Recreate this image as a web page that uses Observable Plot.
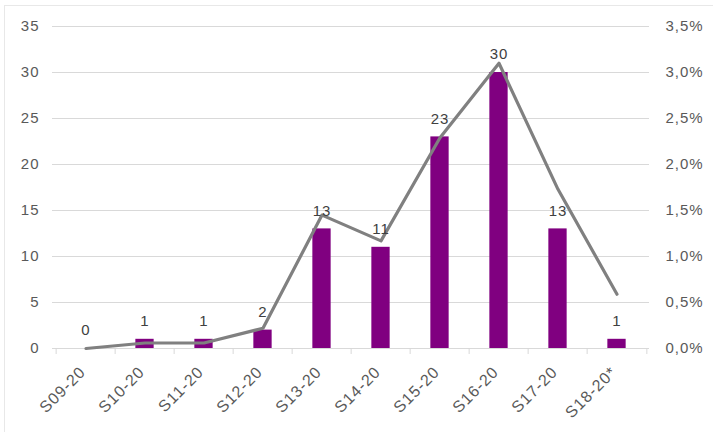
<!DOCTYPE html>
<html>
<head>
<meta charset="utf-8">
<script src="https://cdn.jsdelivr.net/npm/d3@7"></script>
<script src="https://cdn.jsdelivr.net/npm/@observablehq/plot@0.6"></script>
<style>
  html, body { margin: 0; padding: 0; background: #fff; }
  #wrap { position: relative; width: 713px; height: 432px; overflow: hidden; }
  #frame { position: absolute; left: 4px; top: 5px; width: 720px; height: 440px; border: 1px solid #e8e8e8; box-sizing: border-box; pointer-events: none; }
</style>
</head>
<body>
<div id="wrap"><div id="frame"></div></div>
<script>
const categories = ["S09-20","S10-20","S11-20","S12-20","S13-20","S14-20","S15-20","S16-20","S17-20","S18-20*"];
const counts = [0, 1, 1, 2, 13, 11, 23, 30, 13, 1];
const shares = [0.0, 0.06, 0.06, 0.22, 1.45, 1.17, 2.29, 3.10, 1.73, 0.59]; // percent
const leftTicks = [0, 5, 10, 15, 20, 25, 30, 35];
const rightTicks = [0.0, 0.5, 1.0, 1.5, 2.0, 2.5, 3.0, 3.5];

const data = categories.map((c, i) => ({cat: c, count: counts[i], share: shares[i]}));

const W = 713, H = 432, ML = 52, MR = 64, MT = 26, MB = 84;
const bw = (W - ML - MR) / categories.length;
const font = "Liberation Sans, Arial, sans-serif";
const textColor = "#595959";

const chart = Plot.plot({
  width: W, height: H,
  marginLeft: ML, marginRight: MR, marginTop: MT, marginBottom: MB,
  style: {fontFamily: font, fontSize: "15px", color: textColor, background: "transparent", letterSpacing: "1px"},
  x: {type: "band", domain: categories, padding: 0, axis: null},
  y: {domain: [0, 35], axis: null},
  marks: [
    Plot.gridY(leftTicks, {stroke: "#d9d9d9", strokeOpacity: 1, strokeWidth: 1.2}),
    // category boundary tick marks
    Plot.axisX(categories, {tickSize: 6, text: null, label: null, stroke: "#d9d9d9", strokeOpacity: 1, dx: -bw / 2}),
    Plot.axisX([categories[categories.length - 1]], {tickSize: 6, text: null, label: null, stroke: "#d9d9d9", strokeOpacity: 1, dx: bw / 2}),
    Plot.axisX(categories, {tickSize: 0, tickPadding: 21, tickRotate: -45, label: null, fill: textColor, fontSize: 16, dx: -3}),
    Plot.axisY(leftTicks, {anchor: "left", tickSize: 0, tickPadding: 13, label: null, fill: textColor, fontSize: 15}),
    Plot.axisY(rightTicks.map(v => v * 10), {anchor: "right", tickSize: 0, tickPadding: 16, textAnchor: "start", label: null, fill: textColor, fontSize: 15,
      tickFormat: d => (d / 10).toFixed(1).replace(".", ",") + "%"}),
    Plot.barY(data, {x: "cat", y: "count", fill: "#800080", insetLeft: (bw - 19) / 2, insetRight: (bw - 19) / 2}),
    Plot.line(data, {x: "cat", y: d => d.share * 10, stroke: "#808080", strokeWidth: 3.2}),
    Plot.text(data, {x: "cat", y: "count", text: d => String(d.count), dy: -18, fill: "#404040", fontSize: 15, lineAnchor: "middle"})
  ]
});
document.getElementById("wrap").prepend(chart);
</script>
</body>
</html>
